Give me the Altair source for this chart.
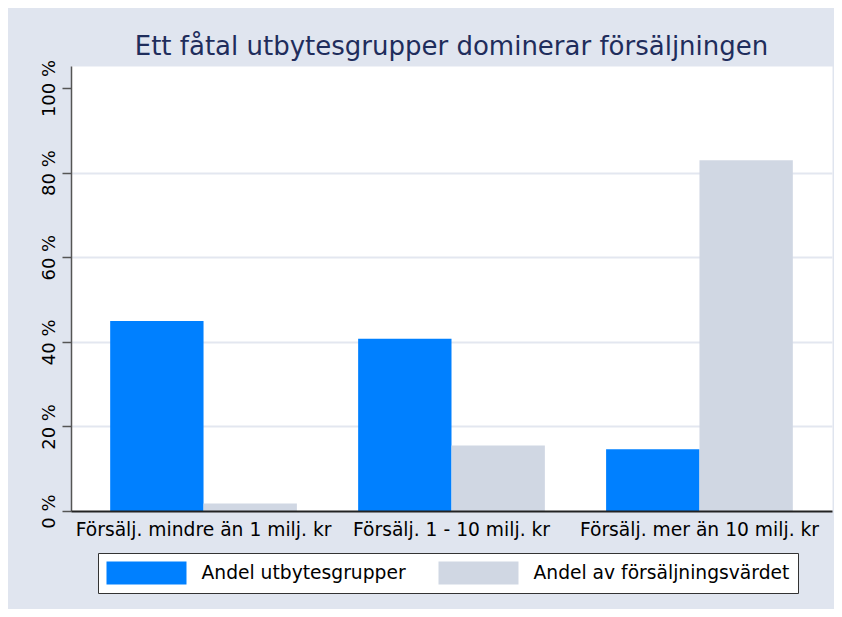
import altair as alt
import pandas as pd

categories = [
    "Försälj. mindre än 1 milj. kr",
    "Försälj. 1 - 10 milj. kr",
    "Försälj. mer än 10 milj. kr",
]
series = ["Andel utbytesgrupper", "Andel av försäljningsvärdet"]
andel_utbytesgrupper = [44.9, 40.7, 14.6]
andel_forsaljningsvarde = [1.75, 15.5, 82.9]
y_ticks = [0, 20, 40, 60, 80, 100]
title_text = "Ett fåtal utbytesgrupper dominerar försäljningen"

rows = []
for i, c in enumerate(categories):
    rows.append({"kategori": c, "serie": series[0], "andel": andel_utbytesgrupper[i]})
    rows.append({"kategori": c, "serie": series[1], "andel": andel_forsaljningsvarde[i]})
df = pd.DataFrame(rows)

FONT = "DejaVu Sans"
BLUE = "#0080ff"
GRAY = "#d0d7e3"
BG = "#e0e5ef"
GRID = "#e3e7f0"

y_scale = alt.Scale(domain=[0, 105.2], nice=False, zero=True)

bars = alt.Chart(df).mark_bar(strokeWidth=0).encode(
    x=alt.X(
        "kategori:N",
        sort=categories,
        scale=alt.Scale(paddingInner=0.247, paddingOuter=0.158),
        axis=alt.Axis(
            title=None,
            ticks=False,
            grid=False,
            domainColor="#222222",
            domainWidth=2,
            labelFont=FONT,
            labelFontSize=18.7,
            labelColor="#000000",
            labelPadding=9,
            labelAngle=0,
            labelLimit=400,
            zindex=1,
        ),
    ),
    xOffset=alt.XOffset("serie:N", sort=series, scale=alt.Scale(paddingInner=0, paddingOuter=0)),
    y=alt.Y(
        "andel:Q",
        scale=y_scale,
        axis=alt.Axis(
            title=None,
            values=y_ticks,
            grid=True,
            gridWidth=2,
            gridColor=alt.condition(
                "datum.value == 0 || datum.value == 100",
                alt.value("transparent"),
                alt.value(GRID),
            ),
            labelExpr="datum.value + ' %'",
            labelAngle=270,
            labelAlign="center",
            labelBaseline="alphabetic",
            labelFont=FONT,
            labelFontSize=18,
            labelColor="#000000",
            labelPadding=8,
            labelLimit=200,
            tickSize=9,
            tickWidth=1.5,
            tickColor="#555555",
            domainColor="#555555",
            domainWidth=1.5,
        ),
    ),
    color=alt.Color(
        "serie:N",
        sort=series,
        scale=alt.Scale(domain=series, range=[BLUE, GRAY]),
        legend=alt.Legend(
            title=None,
            orient="none",
            legendX=27,
            legendY=487,
            direction="horizontal",
            symbolType="M-3.478,-1H3.478V1H-3.478Z",
            symbolSize=529,
            symbolStrokeWidth=0,
            symbolOffset=28.5,
            labelOffset=43.5,
            columnPadding=32,
            padding=8.5,
            fillColor="white",
            strokeColor="#333333",
            labelFont=FONT,
            labelFontSize=18.7,
            labelColor="#000000",
            labelLimit=400,
            labelExpr="datum.label == 'Andel av försäljningsvärdet' ? datum.label + '\u2002' : datum.label",
        ),
    ),
)

chart = (
    bars.properties(
        width=761,
        height=445,
        autosize=alt.AutoSizeParams(type="none"),
        padding={"left": 63, "top": 58, "right": 2, "bottom": 98},
        background=BG,
        title=alt.TitleParams(
            text=title_text,
            font=FONT,
            fontSize=26,
            fontWeight="normal",
            color="#1f2d5c",
            anchor="middle",
            frame="group",
            baseline="alphabetic",
            offset=10,
            dy=32,
        ),
    )
    .configure_view(fill="white", stroke="transparent")
)

chart.save("out.html", embed_options={"renderer": "svg", "actions": False})
